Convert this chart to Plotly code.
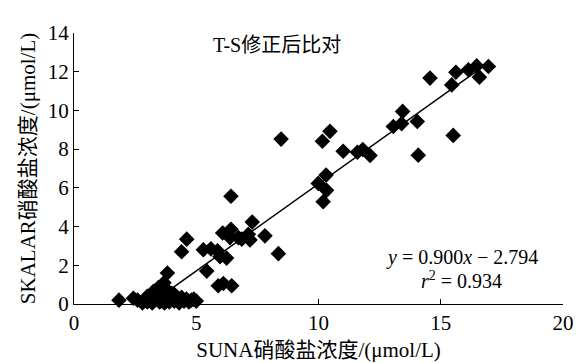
import plotly.graph_objects as go

# SUNA nitrate (x) vs SKALAR nitrate (y), µmol/L
suna_x = [
    1.84, 2.43, 2.6, 2.8, 2.9, 3.0, 3.1, 3.2, 3.2, 3.3, 3.35, 3.4, 3.5, 3.5, 3.6, 3.6,
    3.7, 3.7, 3.8, 3.8, 3.9, 3.9, 4.0, 4.1, 4.1, 4.2, 4.3, 4.3, 4.4, 4.5, 4.6, 4.7,
    4.8, 4.9, 5.0, 3.0, 3.45, 3.25, 3.55, 4.0,
    3.82, 3.68, 4.4, 4.61, 5.29, 5.6, 5.87, 5.97, 6.24, 5.43, 5.9, 6.11, 6.45,
    6.08, 6.42, 6.38, 6.72, 6.86, 7.13, 7.2, 6.42, 7.29, 7.81, 8.36, 8.47,
    9.99, 10.31, 10.33, 10.19, 10.16, 10.47, 11.01, 11.59, 11.81, 12.11,
    13.06, 13.4, 13.44, 14.04, 14.08, 14.56, 15.45, 15.62, 16.13, 16.47, 16.95,
    16.58, 15.51,
]
skalar_y = [
    0.2, 0.3, 0.2, 0.05, 0.2, 0.1, 0.3, 0.05, 0.5, 0.2, 0.6, 0.35, 0.1, 0.75, 0.3, 0.5,
    0.05, 0.8, 0.2, 0.45, 0.6, 0.1, 0.3, 0.15, 0.5, 0.3, 0.05, 0.25, 0.35, 0.15, 0.25, 0.1,
    0.2, 0.25, 0.15, 0.4, 0.85, 0.65, 0.15, 0.55,
    1.6, 1.1, 2.7, 3.35, 2.8, 2.85, 2.75, 2.45, 2.37, 1.7, 0.94, 1.06, 0.94,
    3.67, 3.86, 3.43, 3.43, 3.35, 3.6, 3.31, 5.57, 4.24, 3.52, 2.6, 8.52,
    6.23, 6.66, 5.87, 5.28, 8.41, 8.92, 7.89, 7.84, 7.98, 7.67,
    9.17, 9.32, 9.95, 9.43, 7.69, 11.67, 11.32, 11.97, 12.1, 12.3, 12.27,
    11.72, 8.71,
]

slope = 0.900
intercept = -2.794
r_squared = 0.934
fit_x = [3.9, 16.5]
fit_y = [slope * v + intercept for v in fit_x]

x_ticks = [0, 5, 10, 15, 20]
y_ticks = [0, 2, 4, 6, 8, 10, 12, 14]

title_text = "T-S修正后比对"
x_title = "SUNA硝酸盐浓度/(μmol/L)"
y_title = "SKALAR硝酸盐浓度/(μmol/L)"

FONT = '"Liberation Serif", "Noto Sans CJK SC", serif'

fig = go.Figure()
fig.add_trace(go.Scatter(
    x=fit_x, y=fit_y, mode="lines",
    line=dict(color="black", width=1.5), showlegend=False, hoverinfo="skip",
))
fig.add_trace(go.Scatter(
    x=suna_x, y=skalar_y, mode="markers",
    marker=dict(symbol="diamond", size=12, color="black"),
    cliponaxis=False, showlegend=False,
))

fig.add_annotation(x=8.3, y=13.38, xref="x", yref="y", text=title_text,
                   showarrow=False, font=dict(family=FONT, size=20, color="black"))
fig.add_annotation(x=15.85, y=2.38, xref="x", yref="y",
                   text=f"<i>y</i> = {slope:.3f}<i>x</i> − {abs(intercept):.3f}",
                   showarrow=False, font=dict(family=FONT, size=20, color="black"))
fig.add_annotation(x=15.85, y=1.24, xref="x", yref="y",
                   text=f"<i>r</i><sup>2</sup> = {r_squared:.3f}",
                   showarrow=False, font=dict(family=FONT, size=20, color="black"))

axis_common = dict(
    showline=True, linecolor="black", linewidth=1, mirror=False,
    showgrid=False, zeroline=False, ticks="inside", ticklen=5,
    tickcolor="black", tickwidth=1, automargin=False,
    tickfont=dict(family=FONT, size=21, color="black"),
)
fig.update_xaxes(range=[0, 20], tickvals=x_ticks,
                 title=dict(text=x_title, font=dict(family=FONT, size=21, color="black"), standoff=8),
                 **axis_common)
fig.update_yaxes(range=[0, 14], tickvals=y_ticks,
                 title=dict(text=y_title, font=dict(family=FONT, size=21, color="black"), standoff=6),
                 **axis_common)

fig.update_layout(
    width=581, height=363,
    margin=dict(l=74, r=18, t=33, b=59),
    plot_bgcolor="white", paper_bgcolor="white",
    font=dict(family=FONT, color="black"),
)
fig.write_html("out.html")
